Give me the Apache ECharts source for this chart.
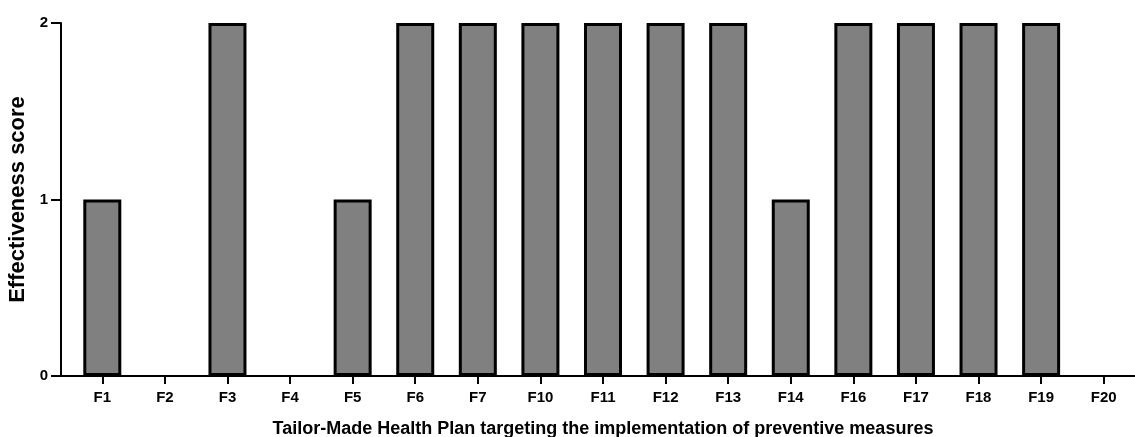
<!DOCTYPE html>
<html><head><meta charset="utf-8">
<script src="https://cdn.jsdelivr.net/npm/echarts@6/dist/echarts.min.js"></script>
<style>html,body{margin:0;padding:0;background:#fff}#c{width:1135px;height:437px}</style>
</head><body><div id="c"></div>
<script>
const categories = ['F1','F2','F3','F4','F5','F6','F7','F10','F11','F12','F13','F14','F16','F17','F18','F19','F20'];
const scores = [1,0,2,0,1,2,2,2,2,2,2,1,2,2,2,2,0];
const yTicks = [0,1,2];

const font = 'Liberation Sans, Arial, sans-serif';
const chart = echarts.init(document.getElementById('c'));
chart.setOption({
  animation: false,
  grid: [
    {left: 71, right: 0, top: 23, bottom: 61, outerBoundsMode: 'none', containLabel: false},
    {left: 61, right: 0, top: 23, bottom: 61, outerBoundsMode: 'none', containLabel: false}
  ],
  xAxis: [
    {type: 'category', gridIndex: 0, data: categories,
     axisLine: {show: false},
     axisTick: {show: true, alignWithLabel: true, length: 8, lineStyle: {color: '#000', width: 2}},
     axisLabel: {color: '#000', fontWeight: 'bold', fontSize: 15, fontFamily: font, margin: 14},
     name: 'Tailor-Made Health Plan targeting the implementation of preventive measures',
     nameLocation: 'middle', nameGap: 44,
     nameTextStyle: {color: '#000', fontWeight: 'bold', fontSize: 18, fontFamily: font}
    },
    {type: 'value', gridIndex: 1, min: 0, max: 1,
     axisLine: {show: true, lineStyle: {color: '#000', width: 2}},
     axisTick: {show: false}, axisLabel: {show: false}, splitLine: {show: false}}
  ],
  yAxis: [
    {type: 'value', gridIndex: 0, min: yTicks[0], max: yTicks[yTicks.length-1], show: false},
    {type: 'value', gridIndex: 1, min: yTicks[0], max: yTicks[yTicks.length-1], interval: 1,
     axisLine: {show: true, lineStyle: {color: '#000', width: 2}},
     axisTick: {show: true, length: 10, lineStyle: {color: '#000', width: 2}},
     axisLabel: {color: '#000', fontWeight: 'bold', fontSize: 15, fontFamily: font, margin: 13},
     splitLine: {show: false},
     name: 'Effectiveness score', nameLocation: 'middle', nameGap: 31,
     nameTextStyle: {color: '#000', fontWeight: 'bold', fontSize: 22, fontFamily: font}
    }
  ],
  series: [{
    type: 'bar', xAxisIndex: 0, yAxisIndex: 0,
    data: scores.map(v => ({value: v, itemStyle: v === 0 ? {borderWidth: 0} : undefined})),
    barWidth: 38,
    itemStyle: {color: '#808080', borderColor: '#000', borderWidth: 3}
  }]
});
</script></body></html>
